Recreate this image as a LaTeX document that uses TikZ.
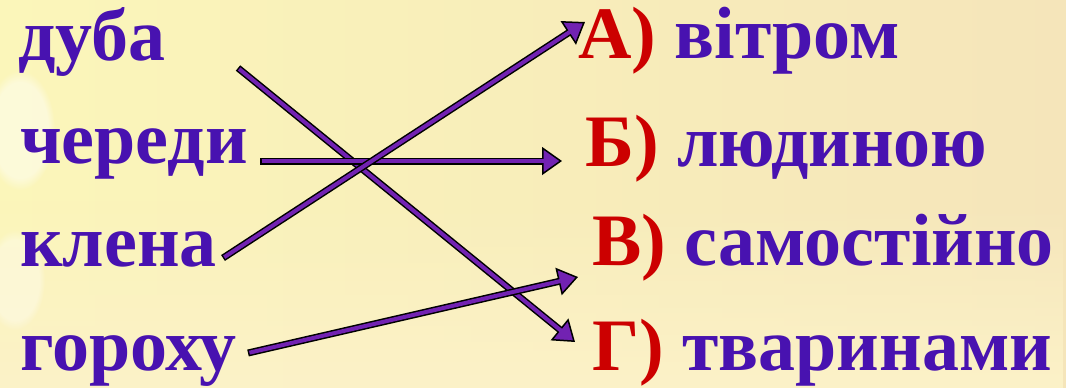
\documentclass[tikz,border=0pt]{standalone}
\usepackage{fontspec}
\setmainfont{Liberation Serif}
\usetikzlibrary{arrows.meta,fadings}
\definecolor{txtpurple}{RGB}{72,18,176}
\definecolor{labred}{RGB}{204,0,0}
\definecolor{arrpurple}{RGB}{114,34,178}
\definecolor{bgyellow}{RGB}{251,246,186}
\definecolor{bgbeige}{RGB}{245,229,186}
\definecolor{bgpale}{RGB}{252,242,200}
\tikzset{
  word/.style={font=\bfseries\fontsize{74}{80}\selectfont, text=txtpurple, inner sep=0pt, anchor=base west},
  outerline/.style={draw=black, line width=7pt, -{Triangle[length=20pt,width=28pt,line width=1.5pt,fill=arrpurple]}},
  innerline/.style={draw=arrpurple, line width=4pt, shorten >=18pt, shorten <=1.5pt},
}
\begin{document}
\begin{tikzpicture}[x=1pt,y=-1pt]
\useasboundingbox (0,0) rectangle (1066,388);
% background
\shade[left color=bgyellow, right color=bgbeige] (0,0) rectangle (1066,388);
\fill[bgpale, path fading=north] (0,200) rectangle (1066,388);
\fill[white, opacity=0.45, path fading=circle with fuzzy edge 20 percent] (20,130) ellipse (35 and 60);
\fill[white, opacity=0.35, path fading=circle with fuzzy edge 20 percent] (15,280) ellipse (30 and 50);
% left words
\node[word] (w1) at (18,60) {дуба};
\node[word] (w2) at (20,163) {череди};
\node[word] (w3) at (20,266) {клена};
\node[word] (w4) at (20,370) {гороху};
% right labels
\node[word] (r1) at (578,58) {{\color{labred}А)} вітром};
\node[word] (r2) at (585,166) {{\color{labred}Б)} людиною};
\node[word] (r3) at (592,265) {{\color{labred}В)} самостійно};
\node[word] (r4) at (592,370) {{\color{labred}Г)} тваринами};
% connector ends
\coordinate (s1) at (238,68);  \coordinate (e1) at (575,342);
\coordinate (s2) at (260,161); \coordinate (e2) at (562,161);
\coordinate (s3) at (223,258); \coordinate (e3) at (585,22);
\coordinate (s4) at (248,353); \coordinate (e4) at (578,277);
\foreach \s/\e in {s1/e1,s2/e2,s3/e3,s4/e4}{
  \draw[outerline] (\s) -- (\e);
  \draw[innerline] (\s) -- (\e);
}
\end{tikzpicture}
\end{document}
